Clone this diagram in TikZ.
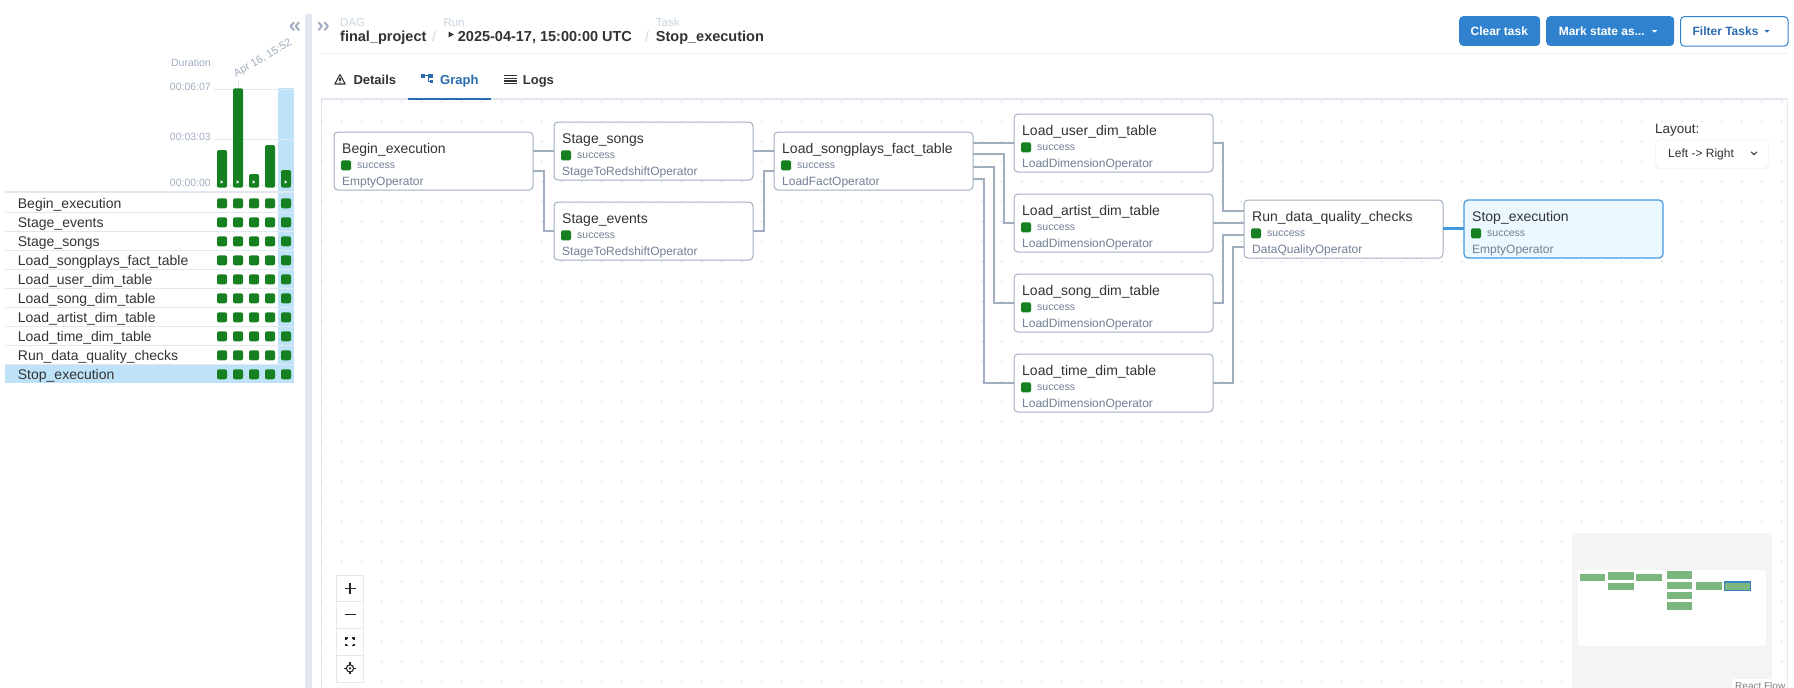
\documentclass[tikz,border=0pt]{standalone}
\usepackage{fontspec}
\setmainfont{Liberation Sans}
\newfontfamily\dejavu{DejaVu Sans}
\usetikzlibrary{calc}
\definecolor{okgreen}{RGB}{22,128,32}
\definecolor{edgecol}{HTML}{A0AEC0}
\definecolor{titlecol}{HTML}{333333}
\definecolor{subcol}{HTML}{718096}
\definecolor{faint}{HTML}{A0AEC0}
\definecolor{lightline}{HTML}{E2E8F0}
\definecolor{hl}{HTML}{BEE3F8}
\definecolor{btnblue}{HTML}{3182CE}
\definecolor{tabblue}{HTML}{2B6CB0}
\definecolor{hdrlab}{HTML}{CBD5E0}
\definecolor{dotcol}{HTML}{C9CED6}
\definecolor{stopfill}{HTML}{EBF8FF}
\definecolor{stopline}{HTML}{4299E1}
\definecolor{mmgreen}{HTML}{7AB67D}
\definecolor{mmbg}{HTML}{F4F4F4}
\newcommand\pxfont[1]{\fontsize{#1}{#1}\selectfont}
\newcommand\dagtask[6]{%
  \node[taskbox,#6] (#1) at (#2,#3) {};
  \node[tasktitle] (#1-title) at ($(#1.north west)+(8,21.5)$) {#4};
  \node[okbox] (#1-state) at ($(#1.north west)+(12,33.3)$) {};
  \node[oktext] (#1-ok) at ($(#1.north west)+(23,36.5)$) {success};
  \node[tasktype] (#1-op) at ($(#1.north west)+(8,53.3)$) {#5};
}
\tikzset{
  taskbox/.style={draw=edgecol, line width=1pt, rounded corners=4pt, fill=white, minimum width=199pt, minimum height=58pt, anchor=north west, inner sep=0pt, outer sep=0pt},
  stopbox/.style={draw=stopline, fill=stopfill, line width=1.2pt},
  tasktitle/.style={anchor=base west, inner sep=0pt, font=\pxfont{14}, text=titlecol},
  oktext/.style={anchor=base west, inner sep=0pt, font=\pxfont{10.5}, text=subcol},
  tasktype/.style={anchor=base west, inner sep=0pt, font=\pxfont{12}, text=subcol},
  okbox/.style={fill=okgreen, rounded corners=1.5pt, minimum size=10pt, inner sep=0pt, draw=none},
  edge/.style={draw=edgecol, line width=2pt},
  rowtext/.style={anchor=base west, inner sep=0pt, font=\pxfont{14}, text=titlecol},
  gridsq/.style={fill=okgreen, rounded corners=2pt, minimum size=10pt, inner sep=0pt},
  axislab/.style={anchor=base east, inner sep=0pt, font=\pxfont{10.5}, text=faint},
  hdrlabel/.style={anchor=base west, inner sep=0pt, font=\pxfont{11.5}, text=hdrlab},
  hdrbold/.style={anchor=base west, inner sep=0pt, font=\bfseries\pxfont{14.5}, text=titlecol},
  tabtext/.style={anchor=base west, inner sep=0pt, font=\bfseries\pxfont{13}, text=titlecol},
  btn/.style={anchor=north west, rounded corners=4pt, inner sep=0pt, minimum height=29.7pt},
  btntext/.style={anchor=base, inner sep=0pt, font=\bfseries\pxfont{12}},
  zoombtn/.style={draw=lightline, fill=white, minimum width=26.7pt, minimum height=26.7pt, inner sep=0pt},
  mmnode/.style={fill=mmgreen, draw=none},
}
\begin{document}
\begin{tikzpicture}[x=1pt,y=-1pt]
\useasboundingbox (0,0) rectangle (1794,688);
\fill[white] (0,0) rectangle (1794,688);

% ---------------- left panel ----------------
\fill[lightline] (305,14) rectangle (312,688);
\draw[faint, line width=2pt, line cap=round, line join=round] (294,22.5) -- (290.5,26.2) -- (294,30);
\draw[faint, line width=2pt, line cap=round, line join=round] (299,22.5) -- (295.5,26.2) -- (299,30);
\node[anchor=base east, inner sep=0pt, font=\pxfont{10.5}, text=faint] (durlab) at (211,66) {Duration};
\node[anchor=base west, inner sep=0pt, rotate=30, font=\pxfont{10.8}, text=faint] (datelab) at (236,77.5) {Apr 16, 15:52};
% highlighted run column
\fill[hl] (278.3,88.3) rectangle (294,365);
% grid lines
\foreach \gy in {89.3,139.3,185.3} \draw[lightline, line width=0.8pt] (214,\gy) -- (294,\gy);
\draw[lightline, line width=0.8pt] (238,80) -- (238,88.3);
\node[axislab] (ax1) at (211,90.5) {00:06:07};
\node[axislab] (ax2) at (211,140.5) {00:03:03};
\node[axislab] (ax3) at (211,186.5) {00:00:00};
% bars
\foreach \bx/\btop in {217/150,233/88.3,249/174,265/145,281/170}
  \fill[okgreen, rounded corners=2pt] (\bx,187.7) rectangle ({\bx+10},\btop);
\foreach \bx in {217,233,249,281}
  \fill[white] ({\bx+3.7},180.3) -- ({\bx+6.2},182) -- ({\bx+3.7},183.7) -- cycle;
% list
\fill[lightline] (5,190.7) rectangle (294,193.3);
\fill[hl] (5,365) rectangle (294,383.3);
\foreach \k in {0,...,8} \draw[lightline, line width=0.8pt] (5,{212.6+19*\k}) -- (294,{212.6+19*\k});
\foreach \n [count=\i from 0] in {Begin\_execution,Stage\_events,Stage\_songs,Load\_songplays\_fact\_table,Load\_user\_dim\_table,Load\_song\_dim\_table,Load\_artist\_dim\_table,Load\_time\_dim\_table,Run\_data\_quality\_checks,Stop\_execution}{
  \node[rowtext] (row-\i) at (17.7,{208.3+19*\i}) {\n};
  \foreach \c in {0,...,4}
    \node[gridsq] (sq-\i-\c) at ({222+16*\c},{203.3+19*\i}) {};
}

% ---------------- header ----------------
\draw[faint, line width=2pt, line cap=round, line join=round] (318.5,22.5) -- (322,26.2) -- (318.5,30);
\draw[faint, line width=2pt, line cap=round, line join=round] (324.5,22.5) -- (328,26.2) -- (324.5,30);
\node[hdrlabel] (lab-dag) at (340,26.5) {DAG};
\node[hdrlabel] (lab-run) at (443.3,26.5) {Run};
\node[hdrlabel] (lab-task) at (655.7,26.5) {Task};
\node[hdrbold] (dagname) at (340,41) {final\_project};
\node[anchor=base west, inner sep=0pt, font=\pxfont{14}, text=hdrlab] (sl1) at (432,41) {/};
\fill[titlecol] (448.5,31.5) -- (453.8,34.5) -- (448.5,37.5) -- cycle;
\node[hdrbold] (runname) at (457.7,41) {2025-04-17, 15:00:00 UTC};
\node[anchor=base west, inner sep=0pt, font=\pxfont{14}, text=hdrlab] (sl2) at (645,41) {/};
\node[hdrbold] (taskname) at (655.7,41) {Stop\_execution};
\draw[lightline!70, line width=1pt] (321,53.3) -- (1787,53.3);
% buttons
\node[btn, fill=btnblue, minimum width=81pt] (clear) at (1459,16) {};
\node[btntext, text=white] (clear-t) at (1499.3,35) {Clear task};
\node[btn, fill=btnblue, minimum width=128pt] (mark) at (1546,16) {};
\node[btntext, text=white] (mark-t) at (1601.8,35) {Mark state as...};
\fill[white] (1651.7,30) -- (1657.3,30) -- (1654.5,32.6) -- cycle;
\node[btn, fill=white, draw=btnblue, line width=1pt, minimum width=107.5pt] (filter) at (1680,16) {};
\node[btntext, text=tabblue] (filter-t) at (1725.5,35) {Filter Tasks};
\fill[tabblue] (1764.2,30) -- (1769.8,30) -- (1767,32.6) -- cycle;
% tabs
\draw[titlecol, line width=1.1pt, line join=round] (334.8,84) -- (340,74.6) -- (345.2,84) -- cycle;
\draw[titlecol, line width=1.1pt] (340,77.6) -- (340,81);
\fill[titlecol] (340,82.5) circle (0.6pt);
\node[tabtext] (tab-details) at (353.3,84) {Details};
\fill[tabblue] (421,74) rectangle (424.5,77.5);
\fill[tabblue] (428,74) rectangle (433.3,77.5);
\fill[tabblue] (429.5,79.5) rectangle (433.3,83.3);
\draw[tabblue, line width=0.9pt] (424.5,75.7) -- (428,75.7);
\draw[tabblue, line width=0.9pt] (428.6,77.5) -- (428.6,81.4) -- (429.5,81.4);
\node[tabtext, text=tabblue] (tab-graph) at (440,84) {Graph};
\foreach \ly in {75.7,78.3,81,83.5} \draw[titlecol, line width=1.1pt] (504.3,\ly) -- (516.5,\ly);
\node[tabtext] (tab-logs) at (522.7,84) {Logs};

% ---------------- graph area ----------------
\draw[lightline, line width=0.8pt] (321,99) -- (321,688);
\draw[lightline, line width=0.8pt] (1787,99) -- (1787,688);
\foreach \i in {0,...,73}
  \foreach \j in {0,...,29}
    \fill[dotcol] ({321.7+20*\i},{101.7+20*\j}) circle (0.75pt);
\draw[lightline, line width=1.8pt] (321,99) -- (1787.5,99);
\draw[tabblue, line width=2.4pt] (408.3,98.8) -- (490.7,98.8);

% tasks
\dagtask{begin}{334}{132}{Begin\_execution}{EmptyOperator}{}
\dagtask{songs}{554}{122}{Stage\_songs}{StageToRedshiftOperator}{}
\dagtask{events}{554}{202}{Stage\_events}{StageToRedshiftOperator}{}
\dagtask{fact}{774}{132}{Load\_songplays\_fact\_table}{LoadFactOperator}{}
\dagtask{user}{1014}{114}{Load\_user\_dim\_table}{LoadDimensionOperator}{}
\dagtask{artist}{1014}{194}{Load\_artist\_dim\_table}{LoadDimensionOperator}{}
\dagtask{song}{1014}{274}{Load\_song\_dim\_table}{LoadDimensionOperator}{}
\dagtask{time}{1014}{354}{Load\_time\_dim\_table}{LoadDimensionOperator}{}
\dagtask{dq}{1244}{200}{Run\_data\_quality\_checks}{DataQualityOperator}{}
\dagtask{stop}{1464}{200}{Stop\_execution}{EmptyOperator}{stopbox}

% edges
\draw[edge] ($(begin.north east)+(0,19)$) -- ($(songs.north west)+(0,29)$);
\draw[edge] ($(begin.north east)+(0,39)$) -- ++(11,0) |- ($(events.north west)+(0,29)$);
\draw[edge] ($(songs.north east)+(0,29)$) -- ($(fact.north west)+(0,19)$);
\draw[edge] ($(events.north east)+(0,29)$) -- ++(11,0) |- ($(fact.north west)+(0,39)$);
\draw[edge] ($(fact.north east)+(0,10.7)$) -- ($(user.north west)+(0,28.7)$);
\draw[edge] ($(fact.north east)+(0,22.3)$) -- ++(31,0) |- ($(artist.north west)+(0,28.7)$);
\draw[edge] ($(fact.north east)+(0,34.7)$) -- ++(21,0) |- ($(song.north west)+(0,28.7)$);
\draw[edge] ($(fact.north east)+(0,47)$) -- ++(10.5,0) |- ($(time.north west)+(0,28.7)$);
\draw[edge] ($(user.north east)+(0,28.7)$) -- ++(10,0) |- ($(dq.north west)+(0,10.7)$);
\draw[edge] ($(artist.north east)+(0,28.7)$) -- ($(dq.north west)+(0,22.7)$);
\draw[edge] ($(song.north east)+(0,28.7)$) -- ++(10,0) |- ($(dq.north west)+(0,35)$);
\draw[edge] ($(time.north east)+(0,28.7)$) -- ++(20,0) |- ($(dq.north west)+(0,47.3)$);
\draw[draw=stopline, line width=2.6pt] ($(dq.north east)+(0,28.7)$) -- ($(stop.north west)+(0,28.7)$);

% layout selector
\node[anchor=base west, inner sep=0pt, font=\pxfont{13.5}, text=titlecol] (layout-lab) at (1655,133.5) {Layout:};
\node[anchor=north west, draw=lightline, fill=white, rounded corners=4pt, minimum width=113pt, minimum height=29pt, inner sep=0pt] (layout-box) at (1655.3,139.3) {};
\node[anchor=base west, inner sep=0pt, font=\pxfont{12}, text=titlecol] (layout-val) at (1668,157.5) {Left -> Right};
\draw[titlecol, line width=1pt] (1751,151.8) -- (1754,154.6) -- (1757,151.8);

% zoom controls
\node[zoombtn] (zin) at (350,588.3) {};
\node[zoombtn] (zout) at (350,615) {};
\node[zoombtn] (zfit) at (350,641.7) {};
\node[zoombtn] (zlock) at (350,668.4) {};
\draw[black!85, line width=1.3pt] (344.5,588.3) -- (355.5,588.3) (350,582.8) -- (350,593.8);
\draw[black!85, line width=1.3pt] (344.5,614.3) -- (355.5,614.3);
\draw[black!85, line width=1.1pt] (346,640) -- (346,638) -- (348,638) (352,638) -- (354,638) -- (354,640)
  (354,643.5) -- (354,645.5) -- (352,645.5) (348,645.5) -- (346,645.5) -- (346,643.5);
\draw[black!85, line width=1.1pt] (350,668.4) circle (3.6pt);
\fill[black!85] (350,668.4) circle (1.2pt);
\draw[black!85, line width=1.1pt] (344,668.4) -- (346.4,668.4) (353.6,668.4) -- (356,668.4)
  (350,662.4) -- (350,664.8) (350,672) -- (350,674.4);

% minimap
\fill[mmbg] (1572,532.7) rectangle (1772,688);
\fill[white] (1578,570) rectangle (1766,646);
\fill[mmnode] (1580,574) rectangle (1605,581);
\fill[mmnode] (1608,572) rectangle (1634,580);
\fill[mmnode] (1608,583) rectangle (1634,590);
\fill[mmnode] (1636,574) rectangle (1662,581);
\fill[mmnode] (1667,571) rectangle (1692,579);
\fill[mmnode] (1667,582) rectangle (1692,589);
\fill[mmnode] (1667,592) rectangle (1692,599);
\fill[mmnode] (1667,602) rectangle (1692,610);
\fill[mmnode] (1696,582) rectangle (1722,590);
\filldraw[fill=mmgreen, draw=stopline!85!black, line width=1.4pt] (1724.3,581.8) rectangle (1750.3,590.2);
\fill[white] (1731.7,679) rectangle (1786,688);
\node[anchor=north west, inner sep=0pt, font=\pxfont{10}, text=black!50] (rf) at (1735,682.5) {React Flow};
\end{tikzpicture}
\end{document}
